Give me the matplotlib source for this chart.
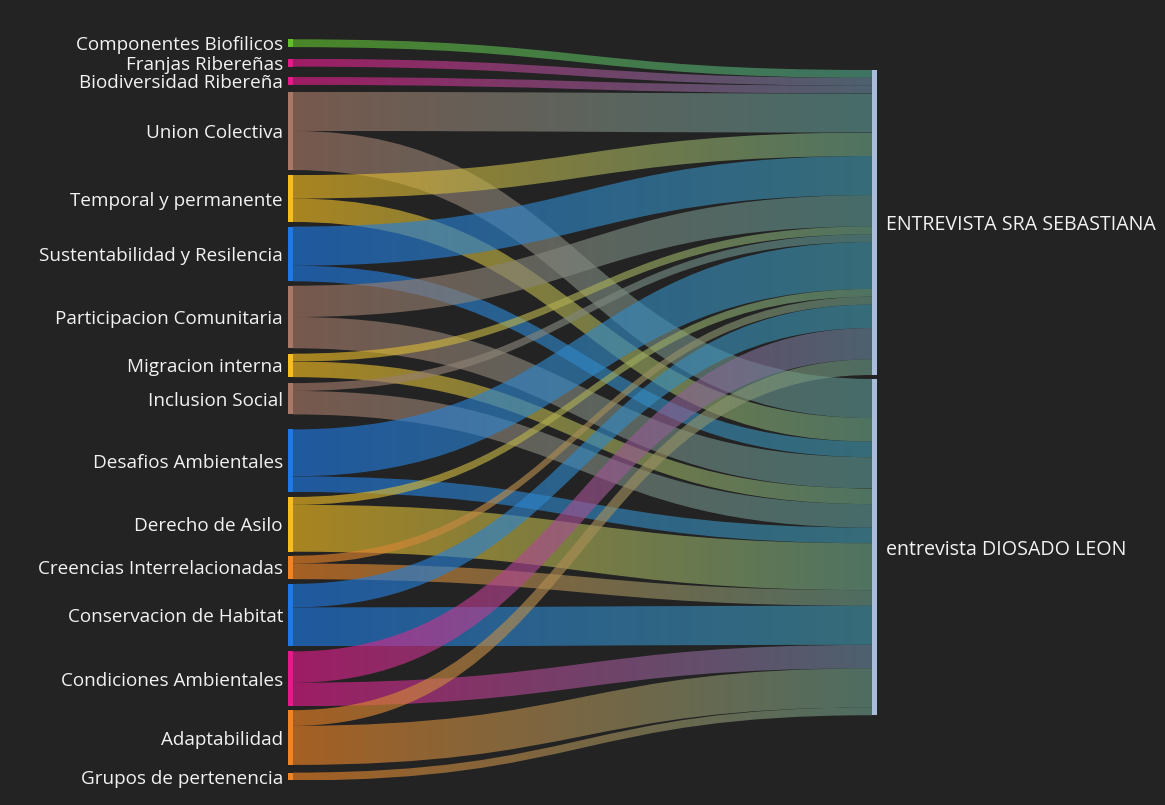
import matplotlib
matplotlib.use("Agg")
import matplotlib.pyplot as plt
import numpy as np
from matplotlib.path import Path
from matplotlib.patches import PathPatch, Rectangle
from matplotlib.colors import to_rgb

# ---------------- data ----------------
sources = ["Componentes Biofilicos", "Franjas Ribereñas", "Biodiversidad Ribereña",
           "Union Colectiva", "Temporal y permanente", "Sustentabilidad y Resilencia",
           "Participacion Comunitaria", "Migracion interna", "Inclusion Social",
           "Desafios Ambientales", "Derecho de Asilo", "Creencias Interrelacionadas",
           "Conservacion de Habitat", "Condiciones Ambientales", "Adaptabilidad",
           "Grupos de pertenencia"]
targets = ["ENTREVISTA SRA SEBASTIANA", "entrevista DIOSADO LEON"]
to_sebastiana = [1, 1, 1, 5, 3, 5, 4, 1, 1, 6, 1, 1, 3, 4, 2, 0]
to_diosado    = [0, 0, 0, 5, 3, 2, 4, 2, 3, 2, 6, 2, 5, 3, 5, 1]

GREEN, PINK, BROWN, YELLOW, BLUE, ORANGE = "#62c02a", "#e6198a", "#a97866", "#f7bd1f", "#1e78e6", "#f28322"
source_colors = [GREEN, PINK, PINK, BROWN, YELLOW, BLUE, BROWN, YELLOW, BROWN,
                 BLUE, YELLOW, ORANGE, BLUE, PINK, ORANGE, ORANGE]
target_color = "#a9bddb"
link_end_color = "#4a9c9c"

# ---------------- layout / style ----------------
W, H = 1165, 805
BG = "#232323"
TXT = "#f2f2f2"
unit = 7.82
node_w = 4.7
left_x, right_x = 288.0, 872.0
left_top = 39.3
left_gaps = [11.7, 10.4, 7, 5, 4.6, 4.4, 5.4, 6, 15, 5, 4, 4.7, 5, 4, 7.7]
right_top, right_gap = 70.0, 4.0
link_alpha = 0.64

plt.rcParams['font.family'] = ['Open Sans', 'DejaVu Sans']
fig = plt.figure(figsize=(W / 100, H / 100), dpi=100, facecolor=BG)
ax = fig.add_axes([0, 0, 1, 1])
ax.set_facecolor(BG)
ax.set_autoscale_on(False)
ax.set_xlim(0, W)
ax.set_ylim(H, 0)
ax.axis('off')

values = [to_sebastiana, to_diosado]
src_tot = [a + b for a, b in zip(to_sebastiana, to_diosado)]
tgt_tot = [sum(v) for v in values]

# node positions
src_y = []
y = left_top
for i, t in enumerate(src_tot):
    src_y.append(y)
    y += t * unit
    if i < len(left_gaps):
        y += left_gaps[i]
tgt_y = []
y = right_top
for t in tgt_tot:
    tgt_y.append(y)
    y += t * unit + right_gap

# links
tgt_off = list(tgt_y)
x0, x1 = left_x + node_w, right_x
xm = (x0 + x1) / 2
for i, name in enumerate(sources):
    sy = src_y[i]
    for j in range(len(targets)):
        v = values[j][i]
        if v <= 0:
            continue
        h = v * unit
        ty = tgt_off[j]
        verts = [(x0, sy), (xm, sy), (xm, ty), (x1, ty),
                 (x1, ty + h), (xm, ty + h), (xm, sy + h), (x0, sy + h), (x0, sy)]
        codes = [Path.MOVETO, Path.CURVE4, Path.CURVE4, Path.CURVE4,
                 Path.LINETO, Path.CURVE4, Path.CURVE4, Path.CURVE4, Path.CLOSEPOLY]
        path = Path(verts, codes)
        patch = PathPatch(path, facecolor='none', edgecolor='none')
        ax.add_patch(patch)
        cs = np.array(to_rgb(source_colors[i]))
        ce = 0.82 * np.array(to_rgb(link_end_color)) + 0.18 * cs
        t = np.linspace(0, 1, 256)[:, None] ** 0.9
        cols = cs * (1 - t) + ce * t
        img = np.concatenate([cols, np.full((256, 1), link_alpha)], axis=1)[None, :, :]
        ymin, ymax = min(sy, ty), max(sy, ty) + h
        im = ax.imshow(img, extent=(x0, x1, ymax, ymin), aspect='auto',
                       interpolation='bilinear', zorder=1)
        im.set_clip_path(patch)
        sy += h
        tgt_off[j] += h

# nodes
for i, name in enumerate(sources):
    h = src_tot[i] * unit
    ax.add_patch(Rectangle((left_x, src_y[i]), node_w, h, facecolor=source_colors[i],
                           edgecolor='none', zorder=3))
    ax.text(left_x - 5, src_y[i] + h / 2, name, ha='right', va='center_baseline',
            color=TXT, fontsize=13.6, zorder=4)
for j, name in enumerate(targets):
    h = tgt_tot[j] * unit
    ax.add_patch(Rectangle((right_x, tgt_y[j]), node_w, h, facecolor=target_color,
                           edgecolor='none', zorder=3))
    ax.text(right_x + node_w + 9, tgt_y[j] + h / 2, name, ha='left', va='center_baseline',
            color=TXT, fontsize=14.1, zorder=4)

fig.savefig("out.png", dpi=100, facecolor=BG)
